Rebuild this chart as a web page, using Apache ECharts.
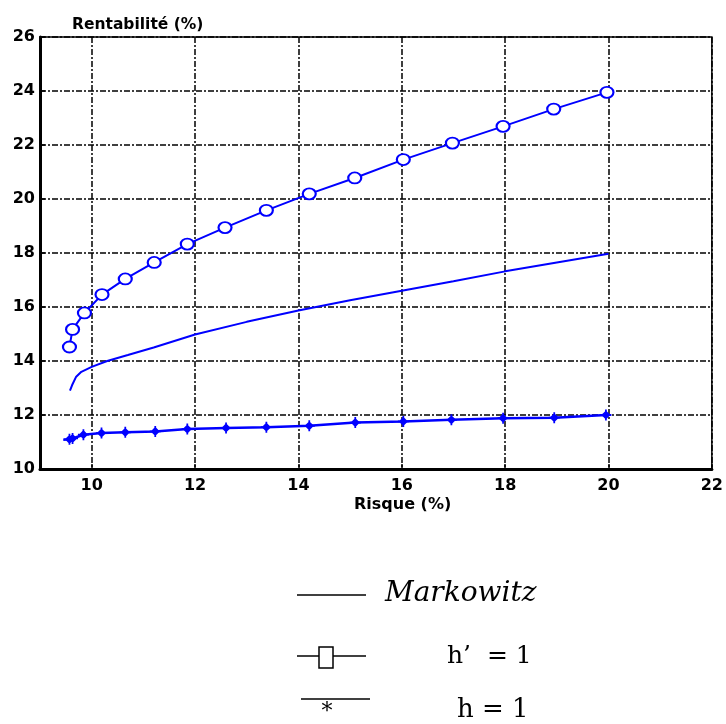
<!DOCTYPE html>
<html>
<head>
<meta charset="utf-8">
<script src="https://cdn.jsdelivr.net/npm/echarts@6/dist/echarts.min.js"></script>
<style>html,body{margin:0;padding:0;background:#fff}#c{width:726px;height:724px}</style>
</head>
<body>
<div id="c"></div>
<script>
// ---- data ----
const xTicks = [10, 12, 14, 16, 18, 20, 22];
const yTicks = [10, 12, 14, 16, 18, 20, 22, 24, 26];

const markowitzRisk = [9.58, 9.62, 9.7, 9.8, 10.0, 10.3, 10.7, 11.2, 12.0, 13.0, 14.0, 15.0, 16.0, 17.0, 18.0, 19.0, 20.0];
const markowitzRet  = [12.9, 13.1, 13.42, 13.6, 13.78, 14.0, 14.22, 14.5, 14.98, 15.45, 15.87, 16.25, 16.6, 16.95, 17.32, 17.65, 17.97];

const hPrimeRisk = [9.57, 9.63, 9.86, 10.2, 10.65, 11.21, 11.85, 12.58, 13.38, 14.21, 15.09, 16.03, 16.98, 17.96, 18.94, 19.97];
const hPrimeRet  = [14.52, 15.17, 15.78, 16.46, 17.04, 17.65, 18.33, 18.94, 19.58, 20.19, 20.78, 21.46, 22.07, 22.69, 23.33, 23.95];

const hRiskStart = 9.45, hRetStart = 11.08;
const hRisk = [9.57, 9.63, 9.84, 10.19, 10.65, 11.23, 11.85, 12.6, 13.38, 14.21, 15.1, 16.03, 16.96, 17.96, 18.95, 19.95];
const hRet  = [11.1, 11.13, 11.27, 11.33, 11.36, 11.39, 11.48, 11.52, 11.55, 11.6, 11.72, 11.76, 11.82, 11.88, 11.9, 12.0];

const yAxisTitle = 'Rentabilité (%)';
const xAxisTitle = 'Risque (%)';
const legendLabels = ['Markowitz', 'h\u2019  = 1', 'h = 1'];

// ---- chart ----
const zip = (a, b) => a.map((v, i) => [v, b[i]]);
const blue = '#0000ff';
const gridDash = [6, 2, 2, 2];
const tickFont = { fontFamily: 'DejaVu Sans', fontWeight: 'bold', fontSize: 16, color: '#000' };
const starPath = 'path://M5,0.8 L9.2,5 L5,9.2 L0.8,5 Z M4.2,0 L5.8,0 L5.8,10 L4.2,10 Z M0,4.2 L10,4.2 L10,5.8 L0,5.8 Z';

const hData = [{ value: [hRiskStart, hRetStart], symbol: 'none' }].concat(zip(hRisk, hRet));

const chart = echarts.init(document.getElementById('c'), null, { renderer: 'canvas' });
chart.setOption({
  animation: false,
  backgroundColor: '#fff',
  title: [
    { text: yAxisTitle, left: 67, top: 12, textStyle: { fontFamily: 'DejaVu Sans', fontWeight: 'bold', fontSize: 15.5, color: '#000' } },
    { text: xAxisTitle, left: 349, top: 492, textStyle: { fontFamily: 'DejaVu Sans', fontWeight: 'bold', fontSize: 16, color: '#000' } }
  ],
  grid: { left: 40, top: 37, width: 675, height: 432, show: true, borderColor: '#000', borderWidth: 1.5, backgroundColor: '#fff' },
  xAxis: {
    type: 'value', min: 9, max: 22,
    axisLine: { show: true, lineStyle: { color: '#000', width: 3 } },
    axisTick: { show: true, inside: true, length: 5, customValues: xTicks, lineStyle: { color: '#000', width: 1.5 } },
    axisLabel: { customValues: xTicks, margin: 9, ...tickFont },
    splitLine: { show: true, lineStyle: { color: '#000', width: 1.5, type: gridDash } }
  },
  yAxis: {
    type: 'value', min: 10, max: 26, interval: 2,
    axisLine: { show: true, lineStyle: { color: '#000', width: 3 } },
    axisTick: { show: true, inside: true, length: 5, lineStyle: { color: '#000', width: 1.5 } },
    axisLabel: { margin: 5, ...tickFont },
    splitLine: { show: true, lineStyle: { color: '#000', width: 1.5, type: gridDash } }
  },
  series: [
    { name: 'Markowitz', type: 'line', data: zip(markowitzRisk, markowitzRet), showSymbol: false, symbol: 'none',
      lineStyle: { color: blue, width: 2 }, z: 5 },
    { name: "h' = 1", type: 'line', data: zip(hPrimeRisk, hPrimeRet), symbol: 'emptyCircle', symbolSize: [13, 11],
      itemStyle: { color: blue, borderColor: blue, borderWidth: 2 }, lineStyle: { color: blue, width: 2 }, z: 6 },
    { name: 'h = 1', type: 'line', data: hData, symbol: starPath, symbolSize: 11,
      itemStyle: { color: blue }, lineStyle: { color: blue, width: 2.5 }, z: 6 }
  ],
  graphic: [
    { type: 'line', shape: { x1: 297, y1: 595, x2: 366, y2: 595 }, style: { stroke: '#000', lineWidth: 1.5 } },
    { type: 'text', x: 385, y: 594, style: { text: legendLabels[0], font: 'italic 28px "DejaVu Serif"', fill: '#000', textVerticalAlign: 'middle' } },
    { type: 'line', shape: { x1: 297, y1: 656, x2: 366, y2: 656 }, style: { stroke: '#000', lineWidth: 1.5 } },
    { type: 'rect', shape: { x: 319, y: 647, width: 14, height: 21 }, style: { fill: '#fff', stroke: '#000', lineWidth: 1.5 } },
    { type: 'text', x: 447, y: 656, style: { text: legendLabels[1], font: '25px "DejaVu Serif"', fill: '#000', textVerticalAlign: 'middle' } },
    { type: 'line', shape: { x1: 301, y1: 699, x2: 370, y2: 699 }, style: { stroke: '#000', lineWidth: 1.5 } },
    { type: 'text', x: 327, y: 712, style: { text: '*', font: '22px "DejaVu Serif"', fill: '#000', textAlign: 'center', textVerticalAlign: 'middle' } },
    { type: 'text', x: 457, y: 710, style: { text: legendLabels[2], font: '26px "DejaVu Serif"', fill: '#000', textVerticalAlign: 'middle' } }
  ]
});
</script>
</body>
</html>
